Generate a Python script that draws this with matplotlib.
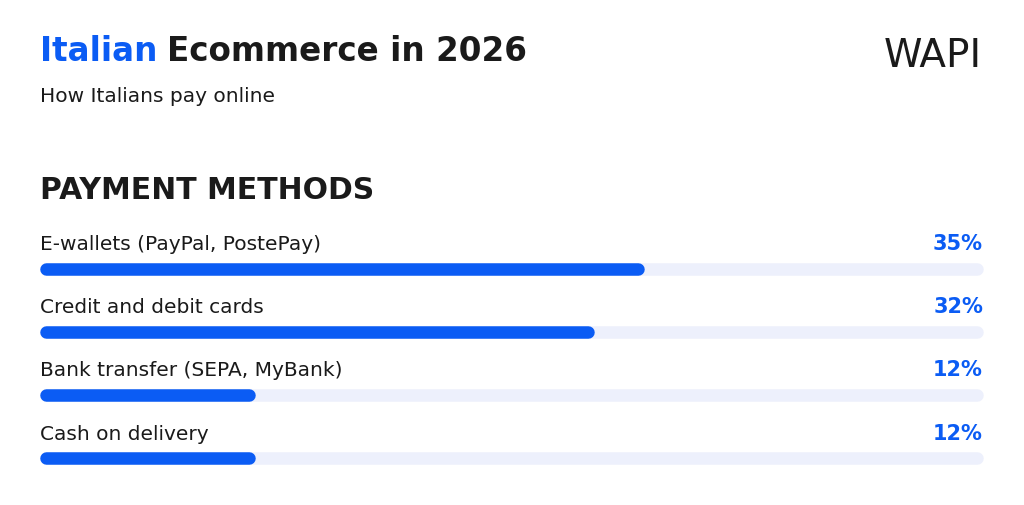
import matplotlib
matplotlib.use("Agg")
import matplotlib.pyplot as plt
from matplotlib.transforms import blended_transform_factory

# ---- data ----
categories = ["E-wallets (PayPal, PostePay)", "Credit and debit cards",
              "Bank transfer (SEPA, MyBank)", "Cash on delivery"]
values = [35, 32, 12, 12]
value_labels = ["35%", "32%", "12%", "12%"]
scale_max = 55

title_blue = "Italian"
title_rest = "Ecommerce in 2026"
subtitle = "How Italians pay online"
section = "PAYMENT METHODS"
logo = "WAPI"

# ---- style ----
W, H, DPI = 1024, 506, 100
BLUE = "#0B5CF4"
TRACK = "#EDF0FC"
DARK = "#1A1A1A"
FONT = "DejaVu Sans"

fig = plt.figure(figsize=(W / DPI, H / DPI), dpi=DPI)
fig.patch.set_facecolor("white")

def px(x, y):
    return x / W, 1 - y / H

# title
t1 = fig.text(*px(40, 61), title_blue, color=BLUE, fontsize=23.5, fontweight="bold",
              family=FONT, va="baseline", ha="left")
fig.canvas.draw()
bb = t1.get_window_extent()
fig.text((bb.x1 + 10) / W, 1 - 61 / H, title_rest, color=DARK, fontsize=23.5,
         fontweight="bold", family=FONT, va="baseline", ha="left")
fig.text(*px(40, 102), subtitle, color=DARK, fontsize=14.5, family=FONT, va="baseline")
fig.text(*px(40, 199), section, color=DARK, fontsize=21.5, fontweight="heavy",
         family=FONT, va="baseline")
fig.text(*px(982, 67), logo, color=DARK, fontsize=28, family=FONT, va="baseline",
         ha="right")

# bars axes
lw_px = 12.5
lw_pt = lw_px * 72 / DPI
ax = fig.add_axes([(40 + lw_px / 2) / W, 0, (943 - lw_px) / W, 1])
ax.set_xlim(0, scale_max)
ax.set_ylim(H, 0)
ax.axis("off")

row0, step = 269.5, 63.2
trans = blended_transform_factory(fig.transFigure, ax.transData)
for i, (cat, v, lab) in enumerate(zip(categories, values, value_labels)):
    y = row0 + step * i
    ax.plot([0, scale_max], [y, y], color=TRACK, lw=lw_pt, solid_capstyle="round",
            clip_on=False)
    ax.plot([0, v], [y, y], color=BLUE, lw=lw_pt, solid_capstyle="round",
            clip_on=False)
    ax.text(40 / W, y - 19.5, cat, transform=trans, color=DARK, fontsize=14.5,
            family=FONT, va="baseline", ha="left")
    ax.text(983 / W, y - 19.5, lab, transform=trans, color=BLUE, fontsize=15,
            fontweight="bold", family=FONT, va="baseline", ha="right")

fig.savefig("out.png", dpi=DPI, facecolor="white")
